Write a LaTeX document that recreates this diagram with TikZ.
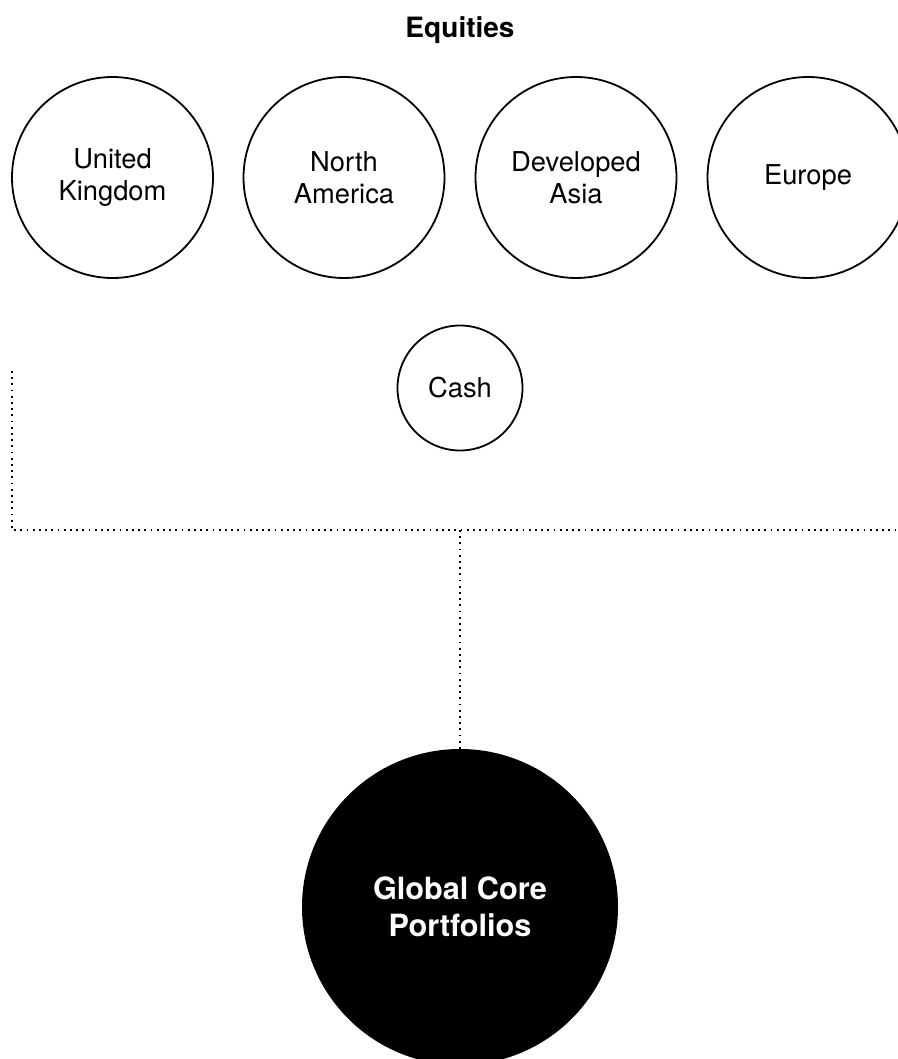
\documentclass[tikz,border=0pt]{standalone}
\usepackage{fontspec}
\setmainfont{TeX Gyre Heros}
\usetikzlibrary{positioning}

\begin{document}
\begin{tikzpicture}[x=0.75pt,y=-0.75pt,
  region/.style={circle,draw,line width=1.35pt,align=center,inner sep=0pt,minimum size=150.75pt,font=\fontsize{20.5}{24}\selectfont},
  dots/.style={line width=1.1pt,dash pattern=on 1.3pt off 3.35pt}]
\useasboundingbox(0,0)rectangle(898,1059);
\node[anchor=base,font=\fontsize{21}{25}\selectfont\bfseries] at(460,37.7)(eq){Equities};
\node[region] at(112.5,177.5)(uk){United\\Kingdom};
\node[region] at(344,177.5)(na){North\\America};
\node[region] at(576,177.5)(asia){Developed\\Asia};
\node[region] at(808,177.5)(eu){Europe};
\node[region,minimum size=93.75pt] at(460,388)(cash){Cash};
\node[circle,fill=black,text=white,align=center,inner sep=0pt,minimum size=237pt,
  font=\fontsize{23}{27.5}\selectfont\bfseries] at(460,907)(core){Global Core\\Portfolios};
% dotted bracket feeding the portfolio
\coordinate(top) at(12,371);
\coordinate(corner) at(12,530);
\coordinate(right) at(898,530);
\coordinate(join) at(core.north|-corner);
\draw[dots](top)--(corner)--(right);
\draw[dots](join)--(core.north);
\end{tikzpicture}
\end{document}
